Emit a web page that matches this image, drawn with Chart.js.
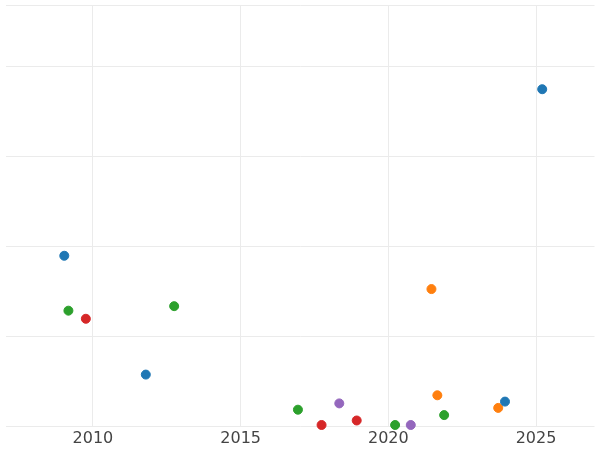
<!DOCTYPE html>
<html lang="en">
<head>
<meta charset="UTF-8">
<title>Scatter</title>
<script src="https://cdn.jsdelivr.net/npm/chart.js"></script>
<style>
  html, body { margin: 0; padding: 0; background: #fff; }
  #wrap { width: 600px; height: 450px; }
</style>
</head>
<body>
<div id="wrap"><canvas id="chart"></canvas></div>
<script>
// values, one list per colour group
const blueX = [2009.03, 2011.79, 2023.95, 2025.21];
const blueY = [1.90, 0.58, 0.28, 3.75];
const greenX = [2009.17, 2012.75, 2016.94, 2020.23, 2021.89];
const greenY = [1.29, 1.34, 0.19, 0.02, 0.13];
const redX = [2009.76, 2017.74, 2018.93];
const redY = [1.20, 0.02, 0.07];
const orangeX = [2021.46, 2021.66, 2023.72];
const orangeY = [1.53, 0.35, 0.21];
const purpleX = [2018.34, 2020.76];
const purpleY = [0.26, 0.02];
const xTicks = [2010, 2015, 2020, 2025];

function pts(xs, ys) {
  return xs.map((x, i) => ({ x: x, y: ys[i] }));
}
function set(xs, ys, color) {
  return {
    data: pts(xs, ys),
    backgroundColor: color,
    borderColor: color,
    pointRadius: 4.5,
    pointHoverRadius: 4.5,
    clip: false
  };
}

new Chart(document.getElementById('chart'), {
  type: 'scatter',
  data: {
    datasets: [
      set(blueX, blueY, '#1f77b4'),
      set(greenX, greenY, '#2ca02c'),
      set(redX, redY, '#d62728'),
      set(orangeX, orangeY, '#ff7f0e'),
      set(purpleX, purpleY, '#9467bd')
    ]
  },
  options: {
    responsive: true,
    maintainAspectRatio: false,
    animation: false,
    layout: { padding: 0 },
    plugins: { legend: { display: false }, tooltip: { enabled: false } },
    scales: {
      x: {
        type: 'linear',
        min: 2007.04,
        max: 2026.98,
        afterBuildTicks: axis => { axis.ticks = xTicks.map(v => ({ value: v })); },
        ticks: { color: '#444', font: { family: 'DejaVu Sans', size: 16 }, padding: 2, callback: v => String(v) },
        grid: { color: '#ebebeb', drawTicks: false },
        border: { display: false }
      },
      y: {
        min: 0,
        max: 4.68,
        afterFit: axis => { axis.width = 0; },
        ticks: { display: false, stepSize: 1 },
        grid: { color: '#ebebeb', drawTicks: false },
        border: { display: false }
      }
    }
  }
});
</script>
</body>
</html>
